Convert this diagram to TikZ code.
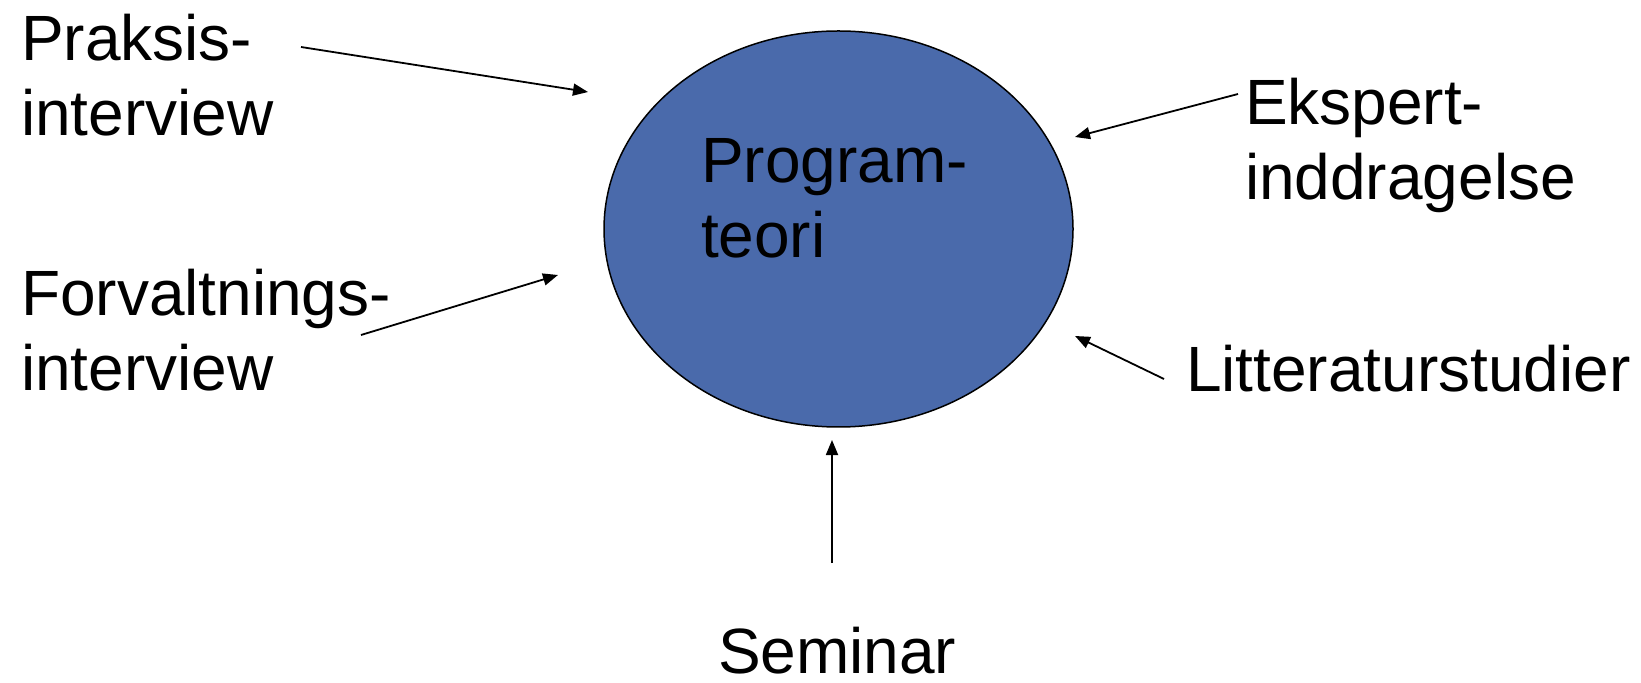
\documentclass[tikz,border=0pt]{standalone}
\usepackage{fontspec}
\setmainfont{Liberation Sans}
\usetikzlibrary{shapes.geometric,arrows.meta}
\definecolor{progblue}{RGB}{74,106,171}
\newcommand\lbltab[1]{\begin{tabular}[t]{@{}l@{}}#1\end{tabular}}
\tikzset{
  lbl/.style={anchor=base west, inner sep=0pt, outer sep=0pt,
    font=\fontsize{32}{37.5}\selectfont},
  arr/.style={line width=0.9pt, -{Triangle[length=7.5pt,width=6pt]}},
  bubble/.style={ellipse, draw=black, line width=0.75pt, fill=progblue,
    minimum width=234.5pt, minimum height=198pt, inner sep=0pt}
}
\begin{document}
\begin{tikzpicture}[x=0.5pt,y=-0.5pt]
\useasboundingbox (0,0) rectangle (1641,683);
\node[bubble] (prog) at (838.5,229) {};
\node[lbl] (progtxt) at (701,183) {\lbltab{Program-\\teori}};
\node[lbl] (praksis) at (21,61) {\lbltab{Praksis-\\interview}};
\node[lbl] (forv) at (21,316) {\lbltab{Forvaltnings-\\interview}};
\node[lbl] (ekspert) at (1245,125) {\lbltab{Ekspert-\\inddragelse}};
\node[lbl] (litt) at (1186,392) {Litteraturstudier};
\node[lbl] (sem) at (718,673) {Seminar};
\coordinate (pA) at (301,47);   \coordinate (pB) at (588,92);
\coordinate (fA) at (361,335);  \coordinate (fB) at (558,275);
\coordinate (eA) at (1238,94);  \coordinate (eB) at (1075,137);
\coordinate (lA) at (1164,379); \coordinate (lB) at (1075,336);
\coordinate (sA) at (832,563);  \coordinate (sB) at (832,440);
\draw[arr] (pA) -- (pB);
\draw[arr] (fA) -- (fB);
\draw[arr] (eA) -- (eB);
\draw[arr] (lA) -- (lB);
\draw[arr] (sA) -- (sB);
\end{tikzpicture}
\end{document}
